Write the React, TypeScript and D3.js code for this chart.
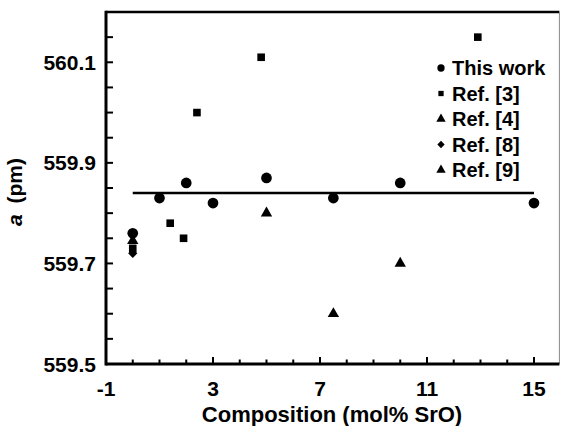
import React from 'react';
import * as d3 from 'd3';

// data
const thisWorkX = [0, 1, 2, 3, 5, 7.5, 10, 15];
const thisWorkY = [559.76, 559.83, 559.86, 559.82, 559.87, 559.83, 559.86, 559.82];
const ref3X = [0, 1.4, 1.9, 2.4, 4.8, 12.9];
const ref3Y = [559.73, 559.78, 559.75, 560.0, 560.11, 560.15];
const ref4X = [5, 7.5, 10];
const ref4Y = [559.8, 559.6, 559.7];
const ref8X = [0];
const ref8Y = [559.72];
const ref9X = [0];
const ref9Y = [559.745];
const fitLineX = [0, 15];
const fitLineY = [559.84, 559.84];

const xMajor = [-1, 3, 7, 11, 15];
const yMajor = [559.5, 559.7, 559.9, 560.1];
const legendLabels = ['This work', 'Ref. [3]', 'Ref. [4]', 'Ref. [8]', 'Ref. [9]'];

const W = 561;
const H = 426;
const FONT = "'Liberation Sans', Arial, sans-serif";

const x = d3.scaleLinear().domain([-1, 15.95]).range([106, 559.4]);
const y = d3.scaleLinear().domain([559.5, 560.2]).range([364, 12]);

const diamondType = (d3 as any).symbolDiamond2 || d3.symbolDiamond;
const sym: Record<string, any> = {
  circle: d3.symbol().type(d3.symbolCircle),
  square: d3.symbol().type(d3.symbolSquare),
  triangle: d3.symbol().type(d3.symbolTriangle),
  diamond: d3.symbol().type(diamondType),
};

const series = [
  { xs: thisWorkX, ys: thisWorkY, kind: 'circle', size: 90, legSize: 42 },
  { xs: ref3X, ys: ref3Y, kind: 'square', size: 58, legSize: 28 },
  { xs: ref4X, ys: ref4Y, kind: 'triangle', size: 56, legSize: 38 },
  { xs: ref8X, ys: ref8Y, kind: 'diamond', size: 54, legSize: 34 },
  { xs: ref9X, ys: ref9Y, kind: 'triangle', size: 56, legSize: 38 },
];

export default function App() {
  const xMinor = d3.range(-1, 16, 1);
  const yMinor = d3.range(559.5, 560.2, 0.05);
  const line = d3.line<number>().x((d, i) => x(fitLineX[i])).y((d) => y(d));

  return (
    <svg width={W} height={H} style={{ position: 'absolute', left: 0, top: 0, background: '#fff' }}
      fontFamily={FONT} fontWeight="bold">
      {/* frame */}
      <line x1={x(-1)} x2={x(15.95)} y1={y(560.2)} y2={y(560.2)} stroke="#000" strokeWidth={2.6} />
      <line x1={x(15.95)} x2={x(15.95)} y1={y(560.2)} y2={y(559.5)} stroke="#888" strokeWidth={1} />

      {/* ticks */}
      {xMinor.map((v) => {
        const major = xMajor.includes(v);
        return <line key={'xt' + v} x1={x(v)} x2={x(v)} y1={y(559.5)} y2={y(559.5) - (major ? 7 : 4.5)}
          stroke="#000" strokeWidth={2} />;
      })}
      {yMinor.map((v, i) => (
        <line key={'yt' + i} x1={x(-1)} x2={x(-1) + 7} y1={y(v)} y2={y(v)} stroke="#000" strokeWidth={2} />
      ))}

      {/* axes */}
      <line x1={x(-1)} x2={x(15.95)} y1={y(559.5)} y2={y(559.5)} stroke="#000" strokeWidth={3} />
      <line x1={x(-1)} x2={x(-1)} y1={y(560.2) - 1.3} y2={y(559.5) + 1.5} stroke="#000" strokeWidth={3} />

      {/* tick labels */}
      {xMajor.map((v) => (
        <text key={'xl' + v} x={x(v)} y={396} textAnchor="middle" fontSize={21}>{v}</text>
      ))}
      {yMajor.map((v) => (
        <text key={'yl' + v} x={96} y={y(v) + 7.5} textAnchor="end" fontSize={21}>{v.toFixed(1)}</text>
      ))}

      {/* axis titles */}
      <text x={332} y={422} textAnchor="middle" fontSize={22}>Composition (mol% SrO)</text>
      <text transform={`translate(22,${192}) rotate(-90)`} textAnchor="middle" fontSize={21}>
        <tspan fontStyle="italic">a</tspan>
        <tspan dx={5}> (pm)</tspan>
      </text>

      {/* fit line */}
      <path d={line(fitLineY) || ''} fill="none" stroke="#000" strokeWidth={2.5} />

      {/* points */}
      {series.map((s, si) =>
        s.xs.map((xv, i) => (
          <path key={`p${si}-${i}`} d={sym[s.kind].size(s.size)() || ''}
            transform={`translate(${x(xv)},${y(s.ys[i])})`} fill="#000" />
        ))
      )}

      {/* legend */}
      {series.map((s, si) => {
        const cy = 68 + si * 25.5;
        return (
          <g key={'lg' + si}>
            <path d={sym[s.kind].size(s.legSize)() || ''} transform={`translate(441,${cy})`} fill="#000" />
            <text x={452} y={cy + 7} fontSize={20}>{legendLabels[si]}</text>
          </g>
        );
      })}
    </svg>
  );
}
